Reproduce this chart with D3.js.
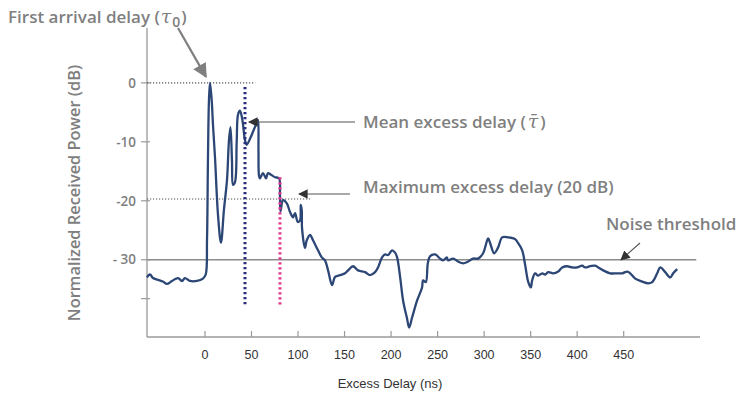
<!DOCTYPE html>
<html>
<head>
<meta charset="utf-8">
<script src="https://cdn.jsdelivr.net/npm/d3@7"></script>
<style>
  body { margin: 0; background: #fff; }
  svg { display: block; }
</style>
</head>
<body>
<div id="chart"></div>
<script>
// Power delay profile (excess delay in ns, power in dB)
const delayNs = [-62.4, -59.1, -55.9, -50.5, -45.2, -40.9, -35.5, -29.0, -24.7, -21.5, -16.1, -8.6, -2.2, 0.8,
  2.2, 3.2, 4.3, 5.4, 7.2, 8.6, 10.8, 14.0, 17.2, 20.4, 23.7, 25.8, 27.4, 29.0, 30.1, 32.3, 34.1, 35.5,
  37.6, 39.8, 40.9, 43.0, 44.8, 48.4, 51.6, 55.6, 57.0, 57.5, 58.1, 59.1, 62.4, 65.6, 67.7, 71.0, 75.3,
  79.6, 80.6, 81.2, 83.9, 87.8, 91.4, 94.6, 96.8, 99.7, 102.2, 102.9, 104.0, 104.3, 107.5, 109.4, 112.9,
  116.1, 121.5, 125.5, 129.0, 132.3, 136.6, 139.8, 145.2, 150.5, 153.8, 159.1, 164.5, 172.0, 177.4,
  182.8, 186.0, 190.3, 193.5, 196.8, 201.1, 204.3, 206.5, 209.7, 212.9, 217.2, 219.4, 222.6, 228.0,
  233.3, 234.4, 237.3, 239.5, 241.9, 247.3, 252.7, 255.9, 259.9, 261.3, 266.7, 272.0, 277.4, 282.8,
  288.2, 293.5, 298.9, 304.3, 306.5, 310.8, 315.1, 319.4, 325.8, 333.3, 336.6, 340.9, 344.1, 347.3,
  350.2, 351.6, 354.8, 358.1, 362.4, 365.6, 368.8, 374.2, 379.6, 383.9, 389.2, 394.6, 400.0, 405.4,
  408.6, 414.0, 419.4, 422.6, 428.0, 435.5, 443.0, 448.4, 453.8, 457.0, 462.4, 469.9, 476.3, 480.6,
  486.0, 489.2, 494.6, 500.0, 503.2, 507.5];
const powerDb = [-33.0, -32.5, -33.1, -33.4, -33.7, -34.1, -33.6, -33.1, -33.6, -33.1, -33.6, -33.6, -33.2, -32.5,
  -26.6, -13.1, -2.9, 0, -2.9, -7.1, -12.7, -22.4, -27.1, -21.5, -16.4, -9.7, -7.5, -13.1, -17.3, -16.8, -10.0, -5.4,
  -4.7, -5.9, -7.1, -9.7, -10.5, -9.5, -8.3, -6.8, -6.3, -11.4, -15.8, -16.2, -15.3, -16.2, -15.3, -15.6, -16.0,
  -16.2, -19.0, -21.8, -19.9, -20.4, -21.9, -22.8, -22.1, -23.6, -23.3, -20.7, -21.6, -24.6, -28.0, -26.7, -25.8,
  -26.7, -28.4, -29.6, -30.1, -31.8, -34.3, -32.9, -32.6, -32.3, -31.8, -31.1, -31.8, -32.1, -32.6,
  -32.1, -31.3, -29.6, -29.1, -29.2, -28.4, -28.8, -29.6, -32.9, -36.9, -40.0, -41.5, -39.8, -36.9,
  -34.7, -33.5, -33.8, -30.6, -29.4, -29.1, -29.8, -30.1, -29.6, -30.1, -29.8, -30.3, -30.6, -30.3,
  -29.8, -29.8, -28.9, -26.4, -27.2, -28.9, -27.9, -26.2, -26.2, -26.5, -27.2, -28.4, -30.9, -33.7,
  -34.7, -33.5, -32.3, -32.7, -32.3, -32.5, -32.1, -32.3, -32.0, -31.3, -31.1, -31.3, -31.3, -31.0,
  -31.3, -31.1, -31.0, -31.3, -31.8, -32.3, -32.3, -32.3, -32.0, -32.3, -33.2, -33.7, -34.0, -33.8,
  -32.3, -31.3, -32.1, -33.0, -32.3, -31.6];

const xTicks = [0, 50, 100, 150, 200, 250, 300, 350, 400, 450];
const yTicks = [0, -10, -20, -30, -36.6];
const yTickLabels = ["0", "-10", "-20", "- 30", ""];

// markers in data units
const firstArrivalNs = 5.4;
const meanDelayNs = 43;
const maxDelayNs = 80.6;
const noiseDb = -30;
const maxDelayLevelDb = -19.7;

const width = 742;
const height = 401;

const x = d3.scaleLinear().domain([-62.3, 532]).range([147, 700]);
const y = d3.scaleLinear().domain([9.3, -43.1]).range([28, 337]);

const svg = d3.select("#chart").append("svg")
    .attr("width", width)
    .attr("height", height)
    .attr("viewBox", [0, 0, width, height]);

const gray = "#7f7f7f";
const labelFont = "'Open Sans', 'Noto Sans', sans-serif";

svg.append("defs").selectAll("marker")
  .data([["arrowBig", gray, 9], ["arrowSmall", "#333", 6]])
  .join("marker")
    .attr("id", d => d[0])
    .attr("viewBox", "0 0 10 10")
    .attr("refX", 9).attr("refY", 5)
    .attr("markerUnits", "userSpaceOnUse")
    .attr("markerWidth", d => d[2] * 1.6)
    .attr("markerHeight", d => d[2] * 1.6)
    .attr("orient", "auto")
  .append("path")
    .attr("d", "M0,0L10,5L0,10z")
    .attr("fill", d => d[1]);

// axes lines
svg.append("line")
    .attr("x1", x(-62.3)).attr("x2", x(-62.3))
    .attr("y1", y(9.3)).attr("y2", y(-43.1))
    .attr("stroke", "#9a9a9a").attr("stroke-width", 1.3);
svg.append("line")
    .attr("x1", x(-62.3)).attr("x2", x(532))
    .attr("y1", y(-43.1)).attr("y2", y(-43.1))
    .attr("stroke", "#9a9a9a").attr("stroke-width", 1.3);

// y ticks
const yt = svg.append("g").selectAll("g")
  .data(yTicks)
  .join("g")
    .attr("transform", d => `translate(0,${y(d)})`);
yt.append("line")
    .attr("x1", x(-62.3) - 6).attr("x2", x(-62.3) + 3)
    .attr("stroke", "#9a9a9a").attr("stroke-width", 1.2);
yt.append("text")
    .attr("x", 136)
    .attr("dy", "0.35em")
    .attr("text-anchor", "end")
    .attr("font-family", labelFont)
    .attr("font-size", 13.5)
    .attr("font-weight", 600)
    .attr("fill", gray)
    .text((d, i) => yTickLabels[i]);

// x ticks
const xt = svg.append("g").selectAll("g")
  .data(xTicks)
  .join("g")
    .attr("transform", d => `translate(${x(d)},${y(-43.1)})`);
xt.append("line")
    .attr("y1", 0).attr("y2", -6)
    .attr("stroke", "#9a9a9a").attr("stroke-width", 1.2);
xt.append("text")
    .attr("y", 22)
    .attr("text-anchor", "middle")
    .attr("font-family", "'Liberation Sans', Arial, sans-serif")
    .attr("font-size", 12.5)
    .attr("fill", "#333")
    .text(d => d);

// axis titles
svg.append("text")
    .attr("x", 390).attr("y", 388)
    .attr("text-anchor", "middle")
    .attr("font-family", "'Liberation Sans', Arial, sans-serif")
    .attr("font-size", 13)
    .attr("fill", "#333")
    .text("Excess Delay (ns)");
svg.append("text")
    .attr("transform", "translate(80,193) rotate(-90)")
    .attr("text-anchor", "middle")
    .attr("font-family", labelFont)
    .attr("font-size", 16.4)
    .attr("font-weight", 600)
    .attr("fill", gray)
    .text("Normalized Received Power (dB)");

// reference lines
svg.append("line")
    .attr("x1", x(-62.3)).attr("x2", x(528))
    .attr("y1", y(noiseDb)).attr("y2", y(noiseDb))
    .attr("stroke", "#8c8c8c").attr("stroke-width", 1.4);
svg.append("line")
    .attr("x1", x(-62.3)).attr("x2", x(54))
    .attr("y1", y(0)).attr("y2", y(0))
    .attr("stroke", "#555").attr("stroke-width", 1.2)
    .attr("stroke-dasharray", "1.2,1.8");
svg.append("line")
    .attr("x1", x(-62.3)).attr("x2", x(113))
    .attr("y1", y(maxDelayLevelDb)).attr("y2", y(maxDelayLevelDb))
    .attr("stroke", "#555").attr("stroke-width", 1.2)
    .attr("stroke-dasharray", "1.2,1.8");

// the profile
const pts = delayNs.map((d, i) => [d, powerDb[i]]);
svg.append("path")
    .datum(pts)
    .attr("fill", "none")
    .attr("stroke", "#2c4676")
    .attr("stroke-width", 2.3)
    .attr("stroke-linejoin", "round")
    .attr("d", d3.line()
        .x(d => x(d[0]))
        .y(d => y(d[1]))
        .curve(d3.curveCatmullRom.alpha(0.5)));

// mean and maximum delay markers
svg.append("line")
    .attr("x1", x(meanDelayNs)).attr("x2", x(meanDelayNs))
    .attr("y1", y(-0.7)).attr("y2", y(-38))
    .attr("stroke", "#2b2f7e").attr("stroke-width", 3)
    .attr("stroke-dasharray", "2.2,2.8");
svg.append("line")
    .attr("x1", x(maxDelayNs)).attr("x2", x(maxDelayNs))
    .attr("y1", y(-16)).attr("y2", y(-38))
    .attr("stroke", "#e0358e").attr("stroke-width", 3)
    .attr("stroke-dasharray", "2.2,2.8");

// annotations
svg.append("line")
    .attr("x1", 178).attr("y1", 28)
    .attr("x2", x(firstArrivalNs) - 4).attr("y2", y(0) - 6)
    .attr("stroke", gray).attr("stroke-width", 2.2)
    .attr("marker-end", "url(#arrowBig)");
svg.append("line")
    .attr("x1", 355).attr("y1", 122)
    .attr("x2", x(meanDelayNs) + 4).attr("y2", 122)
    .attr("stroke", "#555").attr("stroke-width", 1.1)
    .attr("marker-end", "url(#arrowSmall)");
svg.append("line")
    .attr("x1", 350).attr("y1", 194)
    .attr("x2", 299).attr("y2", 194)
    .attr("stroke", "#555").attr("stroke-width", 1.1)
    .attr("marker-end", "url(#arrowSmall)");
svg.append("line")
    .attr("x1", 640).attr("y1", 243)
    .attr("x2", 621).attr("y2", y(noiseDb))
    .attr("stroke", "#555").attr("stroke-width", 1.1)
    .attr("marker-end", "url(#arrowSmall)");

const ann = svg.append("g")
    .attr("font-family", labelFont)
    .attr("font-size", 17)
    .attr("font-weight", 600)
    .attr("fill", gray);

const t1 = ann.append("text").attr("x", 8).attr("y", 23);
t1.append("tspan").text("First arrival delay (");
t1.append("tspan").attr("dx", 1).attr("font-style", "italic").attr("font-size", 19)
    .attr("font-weight", 400).attr("font-family", "'DejaVu Serif', serif").text("τ");
t1.append("tspan").attr("dy", 4).attr("dx", 1).attr("font-size", 14).text("0");
t1.append("tspan").attr("dy", -4).attr("dx", 1).text(")");

const t2 = ann.append("text").attr("x", 363).attr("y", 128);
t2.append("tspan").text("Mean excess delay (");
t2.append("tspan").attr("dx", 2).attr("font-style", "italic").attr("font-size", 19)
    .attr("font-weight", 400).attr("font-family", "'DejaVu Serif', serif").text("τ\u0304");
t2.append("tspan").attr("dx", 2).text(")");

ann.append("text").attr("x", 363).attr("y", 193).text("Maximum excess delay (20 dB)");
ann.append("text").attr("x", 606).attr("y", 230).text("Noise threshold");
</script>
</body>
</html>
